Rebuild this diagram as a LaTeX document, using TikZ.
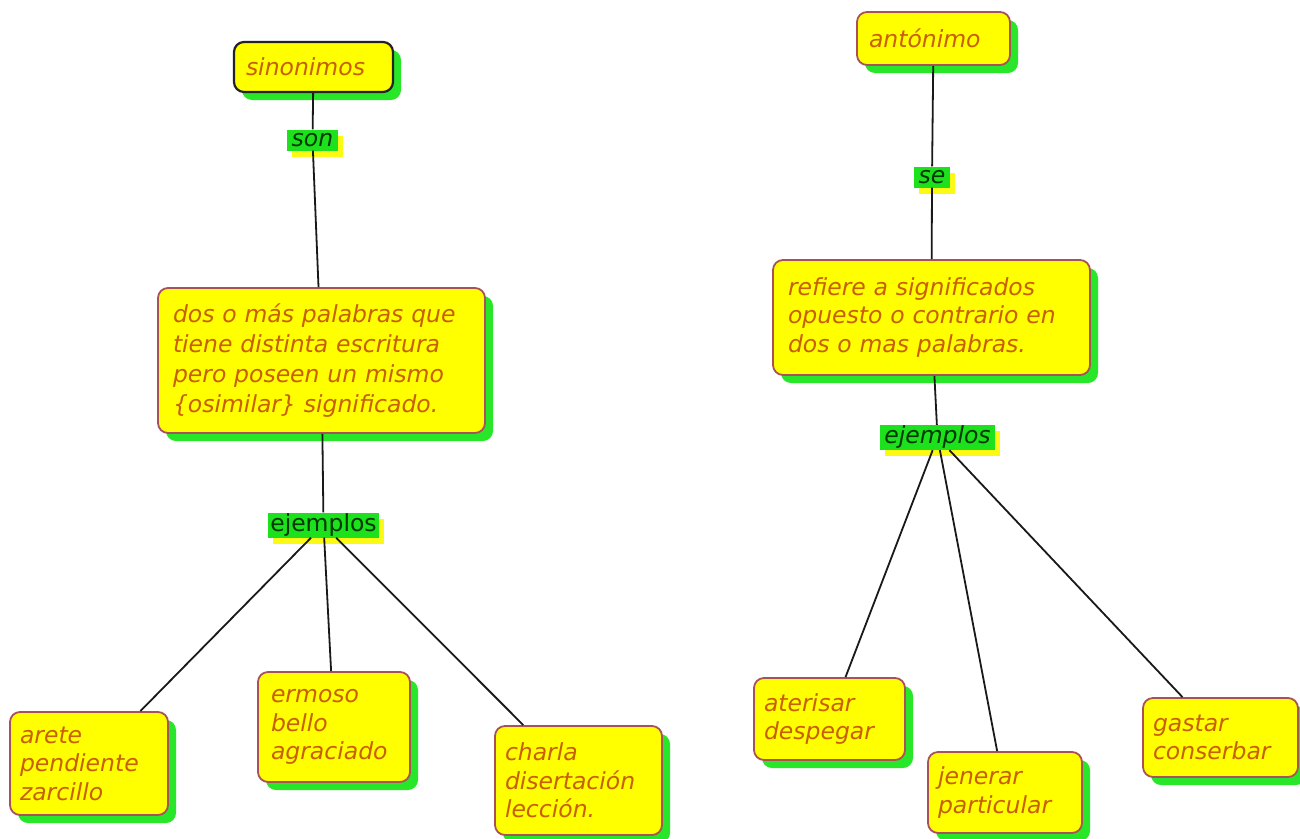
\documentclass[tikz,border=0pt]{standalone}
\usepackage{fontspec}
\setmainfont{DejaVu Sans}
\usetikzlibrary{shadows}
\definecolor{boxfill}{RGB}{255,255,0}
\definecolor{shadowgreen}{RGB}{40,230,40}
\definecolor{boxborder}{RGB}{170,80,90}
\definecolor{darkborder}{RGB}{35,35,35}
\definecolor{txtorange}{RGB}{200,95,0}
\definecolor{lblgreen}{RGB}{30,225,30}
\definecolor{lblshadow}{RGB}{250,250,20}
\definecolor{lbltext}{RGB}{0,55,0}
\definecolor{linegray}{RGB}{25,25,25}
\begin{document}
\begin{tikzpicture}[x=1pt,y=-1pt,
  concept/.style={draw=boxborder, line width=1.8pt, fill=boxfill, rounded corners=10pt,
    drop shadow={shadow xshift=8pt, shadow yshift=-8pt, fill=shadowgreen, opacity=1},
    font=\fontsize{23.5}{28.5}\selectfont\itshape, text=txtorange, align=left,
    inner xsep=12pt, inner ysep=0pt},
  linkword/.style={fill=lblgreen,
    drop shadow={shadow xshift=5pt, shadow yshift=-6pt, fill=lblshadow, opacity=1},
    font=\fontsize{23.5}{28}\selectfont, text=lbltext, inner sep=0pt},
  conn/.style={draw=linegray, line width=1.8pt}]
\fill[white] (0,0) rectangle (1300,838);
\useasboundingbox (0,0) rectangle (1300,838);

% left map
\node[concept, draw=darkborder, line width=2.2pt, minimum height=50pt, text width=135pt] (sin) at (313.5,67) {sinonimos};
\node[linkword, font=\fontsize{23.5}{28}\selectfont\itshape, minimum width=51pt, minimum height=21pt] (son) at (312.5,140) {son};
\node[concept, minimum height=145pt, text width=297pt, inner xsep=15pt, font=\fontsize{23.5}{30}\selectfont\itshape] (def) at (321.5,360.5)
  {dos o más palabras que\\tiene distinta escritura\\pero poseen un mismo\\\{osimilar\} significado.};
\node[linkword, minimum width=111pt, minimum height=25pt] (ejl) at (323.5,525) {ejemplos};
\node[concept, minimum height=103pt, text width=138pt, inner xsep=10pt] (arete) at (89,763.5) {arete\\pendiente\\zarcillo};
\node[concept, minimum height=110pt, text width=126pt, inner xsep=13pt] (ermoso) at (334,727) {ermoso\\bello\\agraciado};
\node[concept, minimum height=109pt, text width=147pt, inner xsep=10pt] (charla) at (578.5,780.5) {charla\\disertación\\lección.};

\draw[conn] (sin) -- (son);
\draw[conn] (son) -- (def);
\draw[conn] (def) -- (ejl);
\draw[conn] (ejl) -- (arete);
\draw[conn] (ejl) -- (ermoso);
\draw[conn] (ejl) -- (charla);

% right map
\node[concept, minimum height=53pt, text width=129pt] (ant) at (933.5,38.5) {antónimo};
\node[linkword, font=\fontsize{23.5}{28}\selectfont\itshape, minimum width=36pt, minimum height=21pt] (se) at (932,177) {se};
\node[concept, minimum height=115pt, text width=287pt, inner xsep=15pt] (ref) at (931.5,317.5)
  {refiere a significados\\opuesto o contrario en\\dos o mas palabras.};
\node[linkword, font=\fontsize{23.5}{28}\selectfont\itshape, minimum width=115pt, minimum height=25pt] (ejr) at (937.5,437.5) {ejemplos};
\node[concept, minimum height=82pt, text width=131pt, inner xsep=10pt] (ater) at (829.5,719) {aterisar\\despegar};
\node[concept, minimum height=81pt, text width=134pt, inner xsep=10pt] (jen) at (1005,792.5) {jenerar\\particular};
\node[concept, minimum height=79pt, text width=135pt, inner xsep=10pt] (gas) at (1220.5,737.5) {gastar\\conserbar};

\draw[conn] (ant) -- (se);
\draw[conn] (se) -- (ref);
\draw[conn] (ref) -- (ejr);
\draw[conn] (ejr) -- (ater);
\draw[conn] (ejr) -- (jen);
\draw[conn] (ejr) -- (gas);
\end{tikzpicture}
\end{document}
